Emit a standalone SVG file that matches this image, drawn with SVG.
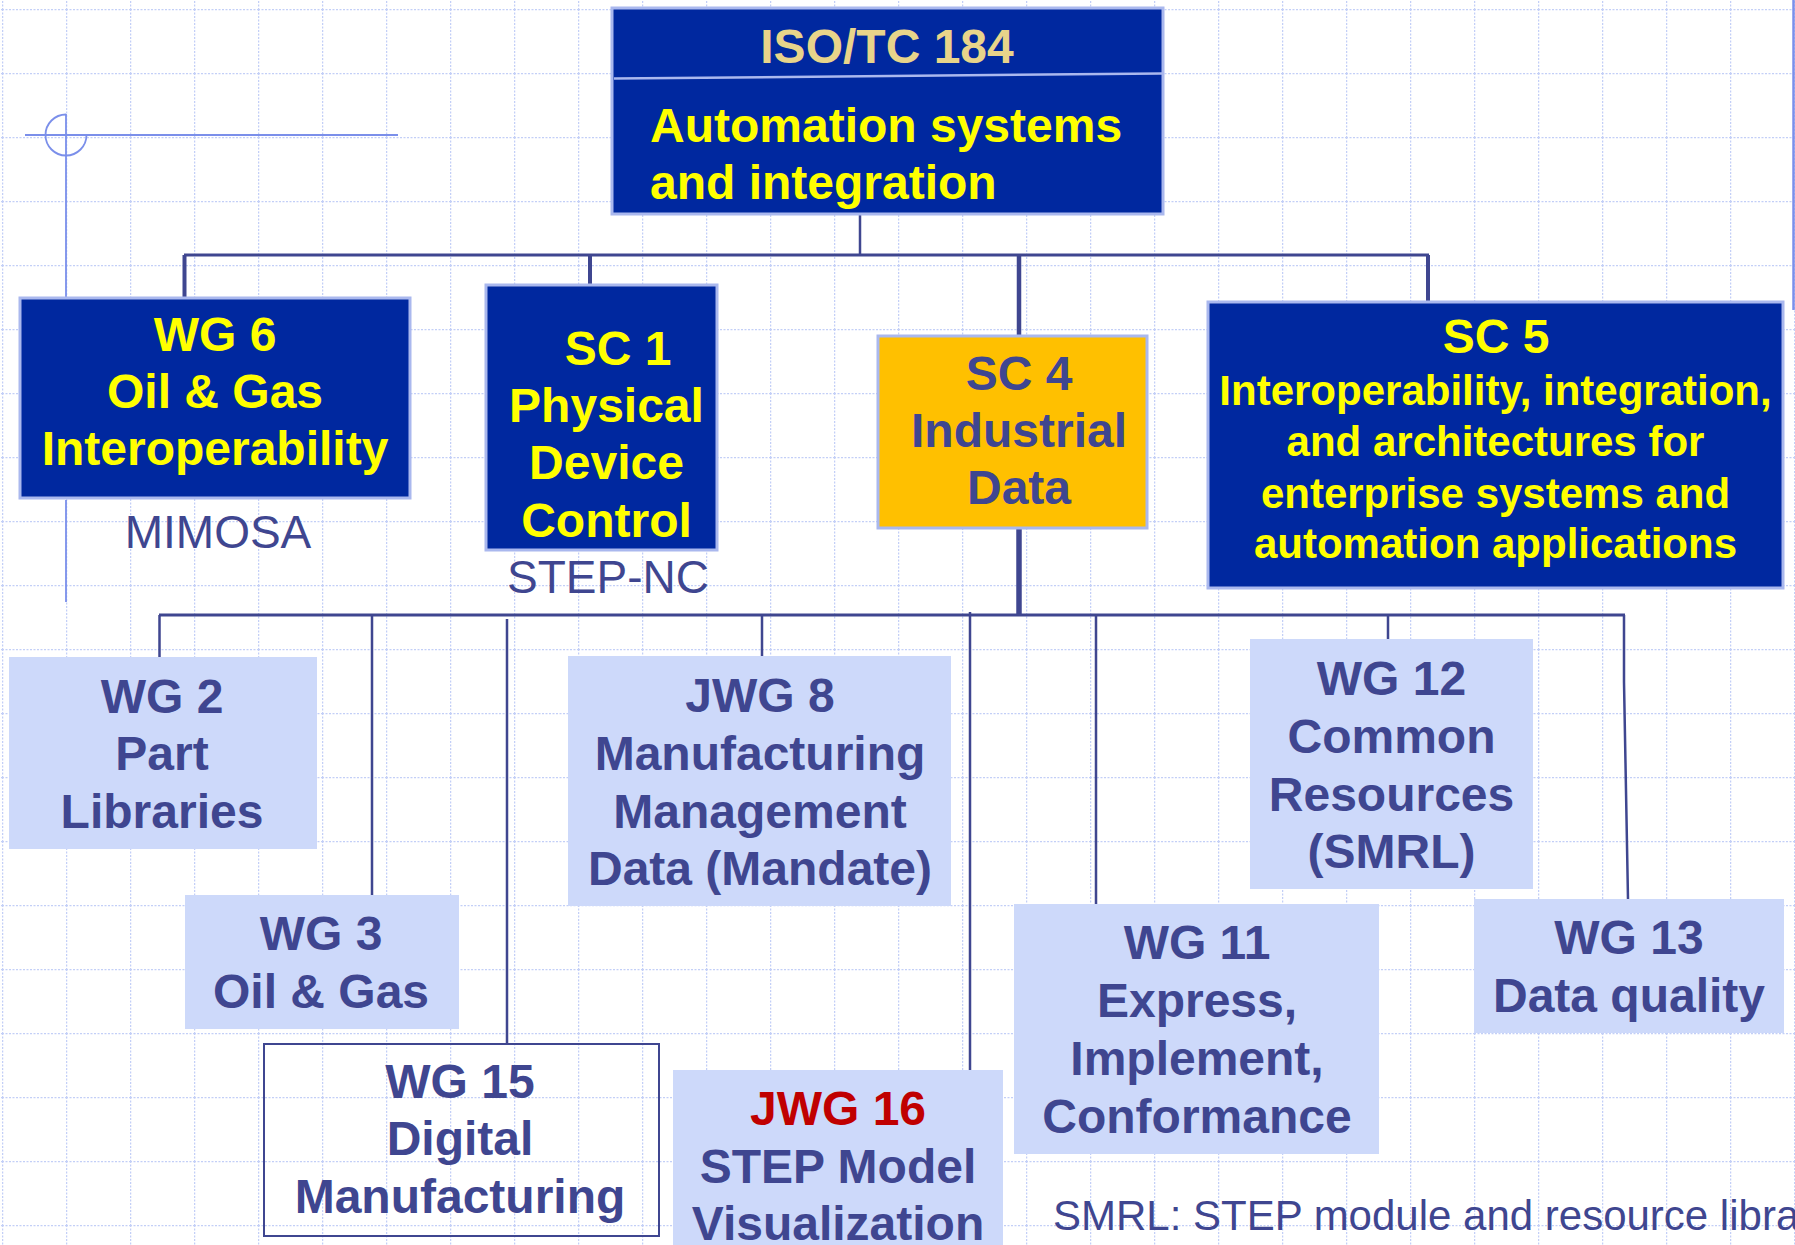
<svg xmlns="http://www.w3.org/2000/svg" width="1795" height="1245" viewBox="0 0 1795 1245">
<style>
.dk{fill:#00289f;stroke:#aab8ee;stroke-width:3}
.lt{fill:#cdd9fa}
.t{font-family:"Liberation Sans",Arial,sans-serif;font-weight:bold;font-size:48px;text-anchor:middle}
.y{fill:#ffff00}
.b{fill:#3f4690}
.r{font-family:"Liberation Sans",Arial,sans-serif;font-size:46px;fill:#3f4690}
.bus{stroke:#3f4690;fill:none}
.deco{stroke:#7b8fea;fill:none;stroke-width:1.8}
</style>
<defs>
<pattern id="grid" patternUnits="userSpaceOnUse" x="2" y="9" width="64" height="64">
<path d="M0,0.5 H64 M0.5,0 V64" stroke="#c3cff7" stroke-width="1.5" stroke-dasharray="2 1.5" fill="none"/>
</pattern>
</defs>
<rect width="1795" height="1245" fill="#ffffff"/>
<rect width="1795" height="1245" fill="url(#grid)"/>
<g id="decor">
<path class="deco" d="M25,135 H398 M66,114 V297 M66,500 V602"/>
<path class="deco" d="M66,114.5 A20.5,20.5 0 1 0 86.5,135"/>
<path d="M1793.5,0 V310" stroke="#7b8fea" stroke-width="2.5" fill="none"/>
</g>
<g id="connectors">
<path class="bus" stroke-width="2.5" d="M860,214 V255"/>
<path class="bus" stroke-width="3" d="M184,255 H1429"/>
<path class="bus" stroke-width="4" d="M184.5,255 V297 M590,255 V284 M1428,255 V301"/>
<path class="bus" stroke-width="4.5" d="M1019,255 V335"/>
<path class="bus" stroke-width="5.5" d="M1019,529 V615"/>
<path class="bus" stroke-width="3" d="M159,615 H1625"/>
<path class="bus" stroke-width="2.5" d="M159.5,615 V657 M372,615 V895 M507,619 V1044 M762,615 V656 M970,612 V1070 M1096,615 V904 M1388,615 V639 M1624,615 V682 L1628,899"/>
</g>
<g id="iso">
<rect class="dk" x="612" y="8" width="551" height="206"/>
<line x1="614" y1="78.5" x2="1162" y2="73.5" stroke="#aab8ee" stroke-width="2.5"/>
<text class="t" x="887" y="63" fill="#e8d48a">ISO/TC 184</text>
<text class="t y" x="650" y="142" style="text-anchor:start">Automation systems</text>
<text class="t y" x="650" y="199" style="text-anchor:start">and integration</text>
</g>
<g id="wg6">
<rect class="dk" x="20" y="298" width="390" height="200"/>
<text class="t y" x="215"><tspan x="215" y="351">WG 6</tspan><tspan x="215" y="408">Oil &amp; Gas</tspan><tspan x="215" y="465">Interoperability</tspan></text>
<text class="r" x="218" y="548" text-anchor="middle">MIMOSA</text>
</g>
<g id="sc1">
<rect class="dk" x="486" y="285" width="231" height="265"/>
<text class="t y"><tspan x="618" y="365">SC 1</tspan><tspan x="606.5" y="422">Physical</tspan><tspan x="606.5" y="479">Device</tspan><tspan x="606.5" y="537">Control</tspan></text>
<text class="r" x="608" y="593" text-anchor="middle">STEP-NC</text>
</g>
<g id="sc4">
<rect x="878" y="336" width="269" height="192" fill="#ffc000" stroke="#aab8ee" stroke-width="3"/>
<text class="t b"><tspan x="1019" y="390">SC 4</tspan><tspan x="1019" y="447">Industrial</tspan><tspan x="1019" y="504">Data</tspan></text>
</g>
<g id="sc5">
<rect class="dk" x="1208" y="302" width="575" height="286"/>
<text class="t y" x="1496" y="353">SC 5</text>
<text class="t y" style="font-size:42px"><tspan x="1495.5" y="405">Interoperability, integration,</tspan><tspan x="1495.5" y="456">and architectures for</tspan><tspan x="1495.5" y="508">enterprise systems and</tspan><tspan x="1495.5" y="558">automation applications</tspan></text>
</g>
<g id="wg2">
<rect class="lt" x="9" y="657" width="308" height="192"/>
<text class="t b"><tspan x="162" y="713">WG 2</tspan><tspan x="162" y="770">Part</tspan><tspan x="162" y="828">Libraries</tspan></text>
</g>
<g id="wg3">
<rect class="lt" x="185" y="895" width="274" height="134"/>
<text class="t b"><tspan x="321" y="950">WG 3</tspan><tspan x="321" y="1008">Oil &amp; Gas</tspan></text>
</g>
<g id="wg15">
<rect x="264" y="1044" width="395" height="192" fill="none" stroke="#3f4690" stroke-width="2"/>
<text class="t b"><tspan x="460" y="1098">WG 15</tspan><tspan x="460" y="1155">Digital</tspan><tspan x="460" y="1213">Manufacturing</tspan></text>
</g>
<g id="jwg8">
<rect class="lt" x="568" y="656" width="383" height="250"/>
<text class="t b"><tspan x="760" y="712">JWG 8</tspan><tspan x="760" y="770">Manufacturing</tspan><tspan x="760" y="828">Management</tspan><tspan x="760" y="885">Data (Mandate)</tspan></text>
</g>
<g id="jwg16">
<rect class="lt" x="673" y="1070" width="330" height="180"/>
<text class="t" x="838" y="1125" fill="#c00000">JWG 16</text>
<text class="t b"><tspan x="838" y="1183">STEP Model</tspan><tspan x="838" y="1240">Visualization</tspan></text>
</g>
<g id="wg12">
<rect class="lt" x="1250" y="639" width="283" height="250"/>
<text class="t b"><tspan x="1391.5" y="695">WG 12</tspan><tspan x="1391.5" y="753">Common</tspan><tspan x="1391.5" y="811">Resources</tspan><tspan x="1391.5" y="868">(SMRL)</tspan></text>
</g>
<g id="wg11">
<rect class="lt" x="1014" y="904" width="365" height="250"/>
<text class="t b"><tspan x="1197" y="959">WG 11</tspan><tspan x="1197" y="1017">Express,</tspan><tspan x="1197" y="1075">Implement,</tspan><tspan x="1197" y="1133">Conformance</tspan></text>
</g>
<g id="wg13">
<rect class="lt" x="1474" y="899" width="310" height="134"/>
<text class="t b"><tspan x="1629" y="954">WG 13</tspan><tspan x="1629" y="1012">Data quality</tspan></text>
</g>
<g id="note">
<text class="r" x="1053" y="1230" style="font-size:42px">SMRL: STEP module and resource library</text>
</g>
</svg>
